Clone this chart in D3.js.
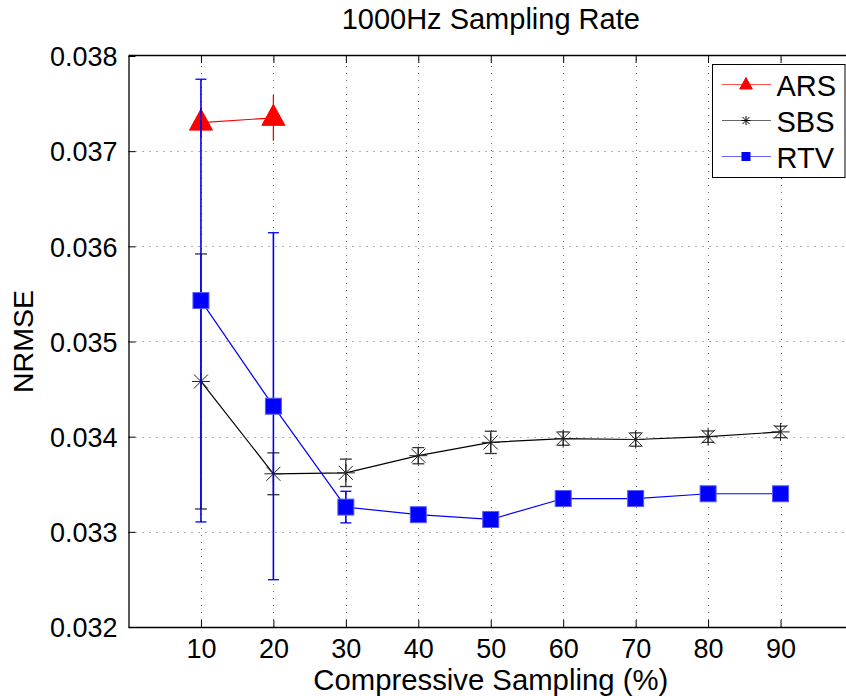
<!DOCTYPE html>
<html><head><meta charset="utf-8">
<script src="https://cdn.jsdelivr.net/npm/d3@7"></script>
<style>
html,body{margin:0;padding:0;background:#fff;}
svg text{font-family:"Liberation Sans",Arial,Helvetica,sans-serif;fill:#000;}
</style></head>
<body><svg id="c" width="846" height="696"></svg>
<script>
const xValues = [10, 20, 30, 40, 50, 60, 70, 80, 90];
const xTicks = [10, 20, 30, 40, 50, 60, 70, 80, 90];
const yTicks = [0.032, 0.033, 0.034, 0.035, 0.036, 0.037, 0.038];
const arsValues = [0.03730, 0.03735];
const arsErr = [0.00016, 0.00024];
const sbsValues = [0.03458, 0.03361, 0.03362, 0.03380, 0.03394, 0.03398, 0.03397, 0.03400, 0.03405];
const sbsErr = [0.00134, 0.00022, 0.000144, 0.000085, 0.000117, 0.00007, 0.00007, 0.00006, 0.00006];
const rtvValues = [0.03543, 0.03432, 0.03326, 0.03318, 0.03313, 0.03335, 0.03335, 0.03340, 0.03340];
const rtvErr = [0.002326, 0.001823, 0.000166, 0.00005, 0.00005, 0.00005, 0.00005, 0.00005, 0.00005];
const seriesNames = ["ARS", "SBS", "RTV"];

const svg = d3.select("#c");
const L = 128.5, R = 853, T = 56, B = 627;
const x = d3.scaleLinear().domain([0, 100]).range([L, R]);
const y = d3.scaleLinear().domain([0.032, 0.038]).range([B, T]);

// grid
const g = svg.append("g");
g.selectAll("line.vg").data(xTicks).join("line")
  .attr("x1", d => Math.round(x(d)) + 0.5).attr("x2", d => Math.round(x(d)) + 0.5)
  .attr("y1", B).attr("y2", T)
  .attr("stroke", "#666").attr("stroke-width", 1).attr("stroke-dasharray", "1 6");
g.selectAll("line.hg").data(yTicks.slice(1, -1)).join("line")
  .attr("x1", L).attr("x2", R)
  .attr("y1", d => Math.round(y(d)) + 0.5).attr("y2", d => Math.round(y(d)) + 0.5)
  .attr("stroke", "#666").attr("stroke-width", 1).attr("stroke-dasharray", "1 6");

// axes
const xAxisB = d3.axisBottom(x).tickValues(xTicks).tickSize(-7).tickPadding(12).tickFormat(d3.format("d"));
const gxb = svg.append("g").attr("transform", `translate(0,${B})`).call(xAxisB);
gxb.select(".domain").attr("d", `M${L},0.5H846`).attr("stroke", "#000").attr("stroke-width", 1.3);
gxb.selectAll(".tick line").attr("stroke", "#000");
gxb.selectAll(".tick text").attr("font-size", 27).attr("dy", "0.71em");

const xAxisT = d3.axisTop(x).tickValues(xTicks).tickSize(-7).tickFormat("");
const gxt = svg.append("g").attr("transform", `translate(0,${T})`).call(xAxisT);
gxt.select(".domain").attr("d", `M${L},-0.5H846`).attr("stroke", "#000").attr("stroke-width", 1.3);
gxt.selectAll(".tick line").attr("stroke", "#000");

const yAxis = d3.axisLeft(y).tickValues(yTicks).tickSize(-7).tickPadding(11).tickFormat(d3.format(".3f"));
const gy = svg.append("g").attr("transform", `translate(${L},0)`).call(yAxis);
gy.select(".domain").attr("d", `M0.5,${B}V${T}`).attr("stroke", "#000").attr("stroke-width", 1.3);
gy.selectAll(".tick line").attr("stroke", "#000");
gy.selectAll(".tick text").attr("font-size", 27).attr("dy", "0.36em");

// title & labels
svg.append("text").attr("x", x(50)).attr("y", 29).attr("text-anchor", "middle")
  .attr("font-size", 29).text("1000Hz Sampling Rate");
svg.append("text").attr("x", x(50)).attr("y", 690).attr("text-anchor", "middle")
  .attr("font-size", 29.3).text("Compressive Sampling (%)");
svg.append("text").attr("transform", "translate(33,341.5) rotate(-90)").attr("text-anchor", "middle")
  .attr("font-size", 28.5).text("NRMSE");

// series
function errorBars(vals, errs, color, cap, width) {
  const eg = svg.append("g");
  vals.forEach((v, i) => {
    const cx = x(xValues[i]);
    const y1 = y(v + errs[i]), y2 = y(v - errs[i]);
    eg.append("line").attr("x1", cx).attr("x2", cx).attr("y1", y1).attr("y2", y2)
      .attr("stroke", color).attr("stroke-width", width);
    if (cap > 0) {
      [y1, y2].forEach(yy => eg.append("line").attr("x1", cx - cap / 2).attr("x2", cx + cap / 2)
        .attr("y1", yy).attr("y2", yy).attr("stroke", color).attr("stroke-width", 1.3));
    }
  });
}
function seriesLine(vals, color) {
  const line = d3.line().x((d, i) => x(xValues[i])).y(d => y(d));
  svg.append("path").datum(vals).attr("d", line).attr("fill", "none")
    .attr("stroke", color).attr("stroke-width", 1.2);
}
function triangle(sel, cx, cy, hw, up, down, color) {
  sel.append("path").attr("d", `M${cx},${cy - up}L${cx + hw},${cy + down}L${cx - hw},${cy + down}Z`)
    .attr("fill", color).attr("stroke", color).attr("stroke-width", 1);
}
function asterisk(sel, cx, cy, dxy, dp, color, w) {
  const p = `M${cx - dxy},${cy - dxy}L${cx + dxy},${cy + dxy}M${cx - dxy},${cy + dxy}L${cx + dxy},${cy - dxy}` +
            `M${cx},${cy - dp}V${cy + dp}M${cx - dp},${cy}H${cx + dp}`;
  sel.append("path").attr("d", p).attr("stroke", color).attr("stroke-width", w).attr("fill", "none");
}
function square(sel, cx, cy, s, color) {
  sel.append("rect").attr("x", cx - s / 2).attr("y", cy - s / 2).attr("width", s).attr("height", s)
    .attr("fill", color).attr("stroke", "#5a5aff").attr("stroke-width", 1);
}

// ARS
errorBars(arsValues, arsErr, "#ff0000", 0, 1.3);
seriesLine(arsValues, "#ff0000");
const ma = svg.append("g");
arsValues.forEach((v, i) => triangle(ma, x(xValues[i]), y(v), 11.5, 13.5, 7.5, "#ff0000"));

// SBS
errorBars(sbsValues, sbsErr, "#333", 12, 1.3);
seriesLine(sbsValues, "#000");
const ms = svg.append("g");
sbsValues.forEach((v, i) => asterisk(ms, x(xValues[i]), y(v), 7, 9, "#222", 1));

// RTV
errorBars(rtvValues, rtvErr, "#0000ee", 11, 1.6);
seriesLine(rtvValues, "#0000ff");
const mr = svg.append("g");
rtvValues.forEach((v, i) => square(mr, x(xValues[i]), y(v), 16, "#0000ff"));

// legend
const lg = svg.append("g");
lg.append("rect").attr("x", 712.5).attr("y", 64.5).attr("width", 132.5).attr("height", 113)
  .attr("fill", "#fff").attr("stroke", "#000").attr("stroke-width", 1);
const ly = [84.5, 120.5, 156.5];
const lc = ["#ff5555", "#666", "#6666ff"];
seriesNames.forEach((n, i) => {
  lg.append("line").attr("x1", 722).attr("x2", 771).attr("y1", ly[i]).attr("y2", ly[i])
    .attr("stroke", lc[i]).attr("stroke-width", 1.2);
  lg.append("text").attr("x", 776.5).attr("y", ly[i] + 11).attr("font-size", 29).text(n);
});
triangle(lg, 746, ly[0], 6.3, 7, 4.5, "#ff0000");
asterisk(lg, 746, ly[1], 3.5, 4.5, "#000", 1);
lg.append("rect").attr("x", 741.5).attr("y", ly[2] - 4.5).attr("width", 9).attr("height", 9).attr("fill", "#0000ff");
</script></body></html>
